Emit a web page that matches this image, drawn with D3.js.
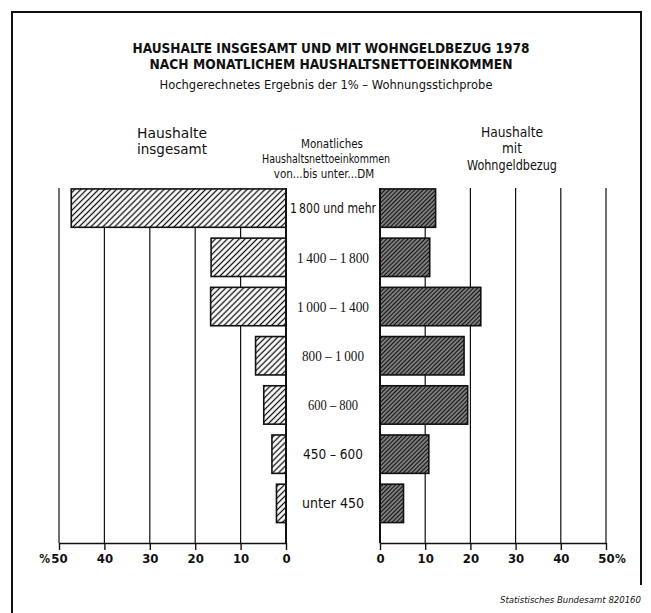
<!DOCTYPE html>
<html>
<head>
<meta charset="utf-8">
<script src="https://cdn.jsdelivr.net/npm/d3@7/dist/d3.min.js"></script>
<style>
  html, body { margin: 0; padding: 0; background: #fff; }
  svg { display: block; }
  text { fill: #111; }
</style>
</head>
<body>
<div id="chart"></div>
<script>
// income classes (DM per month), top to bottom
const categories = ["1\u2009800 und mehr", "1\u2009400 \u2013 1\u2009800", "1\u2009000 \u2013 1\u2009400", "800 \u2013 1\u2009000", "600 \u2013 800", "450 \u2013 600", "unter 450"];
// share of all households, %
const insgesamt = [47.3, 16.5, 16.6, 6.7, 4.9, 3.1, 2.1];
// share of households receiving housing allowance, %
const wohngeld = [12.3, 11.0, 22.3, 18.6, 19.4, 10.8, 5.2];
const tickValues = [0, 10, 20, 30, 40, 50];

const W = 651, H = 613;
const narrow = "'DejaVu Sans Condensed', 'Liberation Sans Narrow', 'Liberation Sans', sans-serif";
const serif = "'Liberation Serif', 'DejaVu Serif', serif";

const svg = d3.select('#chart').append('svg').attr('width', W).attr('height', H);

// hatch patterns
const defs = svg.append('defs');
function hatch(id, size, lw) {
  const p = defs.append('pattern').attr('id', id)
    .attr('patternUnits', 'userSpaceOnUse')
    .attr('width', size).attr('height', size)
    .attr('patternTransform', 'rotate(45)');
  p.append('rect').attr('width', size).attr('height', size).attr('fill', '#fff');
  p.append('line').attr('x1', size/2).attr('x2', size/2).attr('y1', 0).attr('y2', size)
    .attr('stroke', '#111').attr('stroke-width', lw);
}
hatch('hLight', 4.2, 1.3);
hatch('hDark', 3.0, 2.1);

// frame
svg.append('path').attr('d', `M12,613 L12,12 L641,12 L641,585`)
  .attr('fill', 'none').attr('stroke', '#111').attr('stroke-width', 2);

// titles
const title = svg.append('g').attr('font-family', narrow).attr('text-anchor', 'middle');
title.append('text').attr('x', 331).attr('y', 53).attr('font-weight', 'bold').attr('font-size', 14)
  .attr('textLength', 397).attr('lengthAdjust', 'spacingAndGlyphs')
  .text('HAUSHALTE INSGESAMT UND MIT WOHNGELDBEZUG 1978');
title.append('text').attr('x', 331).attr('y', 69).attr('font-weight', 'bold').attr('font-size', 14)
  .attr('textLength', 363).attr('lengthAdjust', 'spacingAndGlyphs')
  .text('NACH MONATLICHEM HAUSHALTSNETTOEINKOMMEN');
title.append('text').attr('x', 326).attr('y', 89).attr('font-size', 13)
  .attr('textLength', 333).attr('lengthAdjust', 'spacingAndGlyphs')
  .text('Hochgerechnetes Ergebnis der 1% \u2013 Wohnungsstichprobe');

// column headers
const head = svg.append('g').attr('font-family', narrow).attr('text-anchor', 'middle').attr('font-size', 13.5);
head.append('text').attr('x', 172).attr('y', 138).attr('textLength', 70).attr('lengthAdjust', 'spacingAndGlyphs').text('Haushalte');
head.append('text').attr('x', 172).attr('y', 154).attr('textLength', 70).attr('lengthAdjust', 'spacingAndGlyphs').text('insgesamt');
head.append('text').attr('x', 512).attr('y', 137).attr('textLength', 62).attr('lengthAdjust', 'spacingAndGlyphs').text('Haushalte');
head.append('text').attr('x', 512).attr('y', 153).text('mit');
head.append('text').attr('x', 512).attr('y', 170).attr('textLength', 90).attr('lengthAdjust', 'spacingAndGlyphs').text('Wohngeldbezug');
const mid = svg.append('g').attr('font-family', narrow).attr('text-anchor', 'middle').attr('font-size', 11.5);
mid.append('text').attr('x', 332).attr('y', 148).text('Monatliches');
mid.append('text').attr('x', 326).attr('y', 163).attr('textLength', 128).attr('lengthAdjust', 'spacingAndGlyphs').text('Haushaltsnettoeinkommen');
mid.append('text').attr('x', 324).attr('y', 178).text('von...bis unter...DM');

// scales
const xL = d3.scaleLinear().domain([0, 50]).range([286, 59]);
const xR = d3.scaleLinear().domain([0, 50]).range([380, 606]);
const y = d3.scaleBand().domain(categories).range([184, 527.5]).paddingInner(0.22).paddingOuter(0.1);
const gridTop = 188, axisY = 543;

// gridlines
const grid = svg.append('g').attr('stroke', '#111');
grid.selectAll('line.l').data(tickValues.filter(d => d > 0)).join('line')
  .attr('x1', d => xL(d)).attr('x2', d => xL(d)).attr('y1', gridTop).attr('y2', axisY).attr('stroke-width', 1.2);
grid.selectAll('line.r').data(tickValues.filter(d => d > 0)).join('line')
  .attr('x1', d => xR(d)).attr('x2', d => xR(d)).attr('y1', gridTop).attr('y2', axisY).attr('stroke-width', 1.2);

// bars
svg.append('g').selectAll('rect').data(insgesamt).join('rect')
  .attr('x', d => xL(d)).attr('y', (d, i) => y(categories[i]))
  .attr('width', d => xL(0) - xL(d)).attr('height', y.bandwidth())
  .attr('fill', 'url(#hLight)').attr('stroke', '#111').attr('stroke-width', 1.6);
svg.append('g').selectAll('rect').data(wohngeld).join('rect')
  .attr('x', xR(0)).attr('y', (d, i) => y(categories[i]))
  .attr('width', d => xR(d) - xR(0)).attr('height', y.bandwidth())
  .attr('fill', 'url(#hDark)').attr('stroke', '#111').attr('stroke-width', 1.6);

// zero lines
svg.append('line').attr('x1', xL(0)).attr('x2', xL(0)).attr('y1', gridTop).attr('y2', axisY)
  .attr('stroke', '#111').attr('stroke-width', 2);
svg.append('line').attr('x1', xR(0)).attr('x2', xR(0)).attr('y1', gridTop).attr('y2', axisY)
  .attr('stroke', '#111').attr('stroke-width', 2);

// category labels
const labelWidth = [86, 72, 72, 62, 50, 60, 62];
svg.append('g').attr('text-anchor', 'middle')
  .selectAll('text').data(categories).join('text')
  .attr('x', 333).attr('y', d => y(d) + y.bandwidth() / 2).attr('dy', '0.35em')
  .attr('font-family', (d, i) => (i >= 1 && i <= 4) ? serif : narrow)
  .attr('font-size', (d, i) => (i >= 1 && i <= 4) ? 15.5 : 13.5)
  .attr('textLength', (d, i) => labelWidth[i]).attr('lengthAdjust', 'spacingAndGlyphs')
  .text(d => d);

// axes
function styleAxis(g) {
  g.select('.domain').attr('stroke', '#111').attr('stroke-width', 1.6);
  g.selectAll('.tick line').attr('stroke', '#111').attr('stroke-width', 1.4);
  g.selectAll('.tick text').attr('font-family', narrow).attr('font-weight', 'bold')
    .attr('font-size', 13).attr('fill', '#111');
}
svg.append('g').attr('transform', `translate(0,${axisY})`)
  .call(d3.axisBottom(xL).tickValues(tickValues).tickSizeInner(7).tickSizeOuter(0).tickPadding(4))
  .call(styleAxis);
svg.append('g').attr('transform', `translate(0,${axisY})`)
  .call(d3.axisBottom(xR).tickValues(tickValues).tickSizeInner(7).tickSizeOuter(0).tickPadding(4))
  .call(styleAxis);
svg.append('text').attr('x', 50).attr('y', 563).attr('text-anchor', 'end')
  .attr('font-family', narrow).attr('font-weight', 'bold').attr('font-size', 12).text('%');
svg.append('text').attr('x', 615).attr('y', 563).attr('text-anchor', 'start')
  .attr('font-family', narrow).attr('font-weight', 'bold').attr('font-size', 12).text('%');

// source
svg.append('text').attr('x', 641).attr('y', 603).attr('text-anchor', 'end')
  .attr('font-family', narrow).attr('font-style', 'italic').attr('font-size', 9.5)
  .text('Statistisches Bundesamt 820160');
</script>
</body>
</html>
